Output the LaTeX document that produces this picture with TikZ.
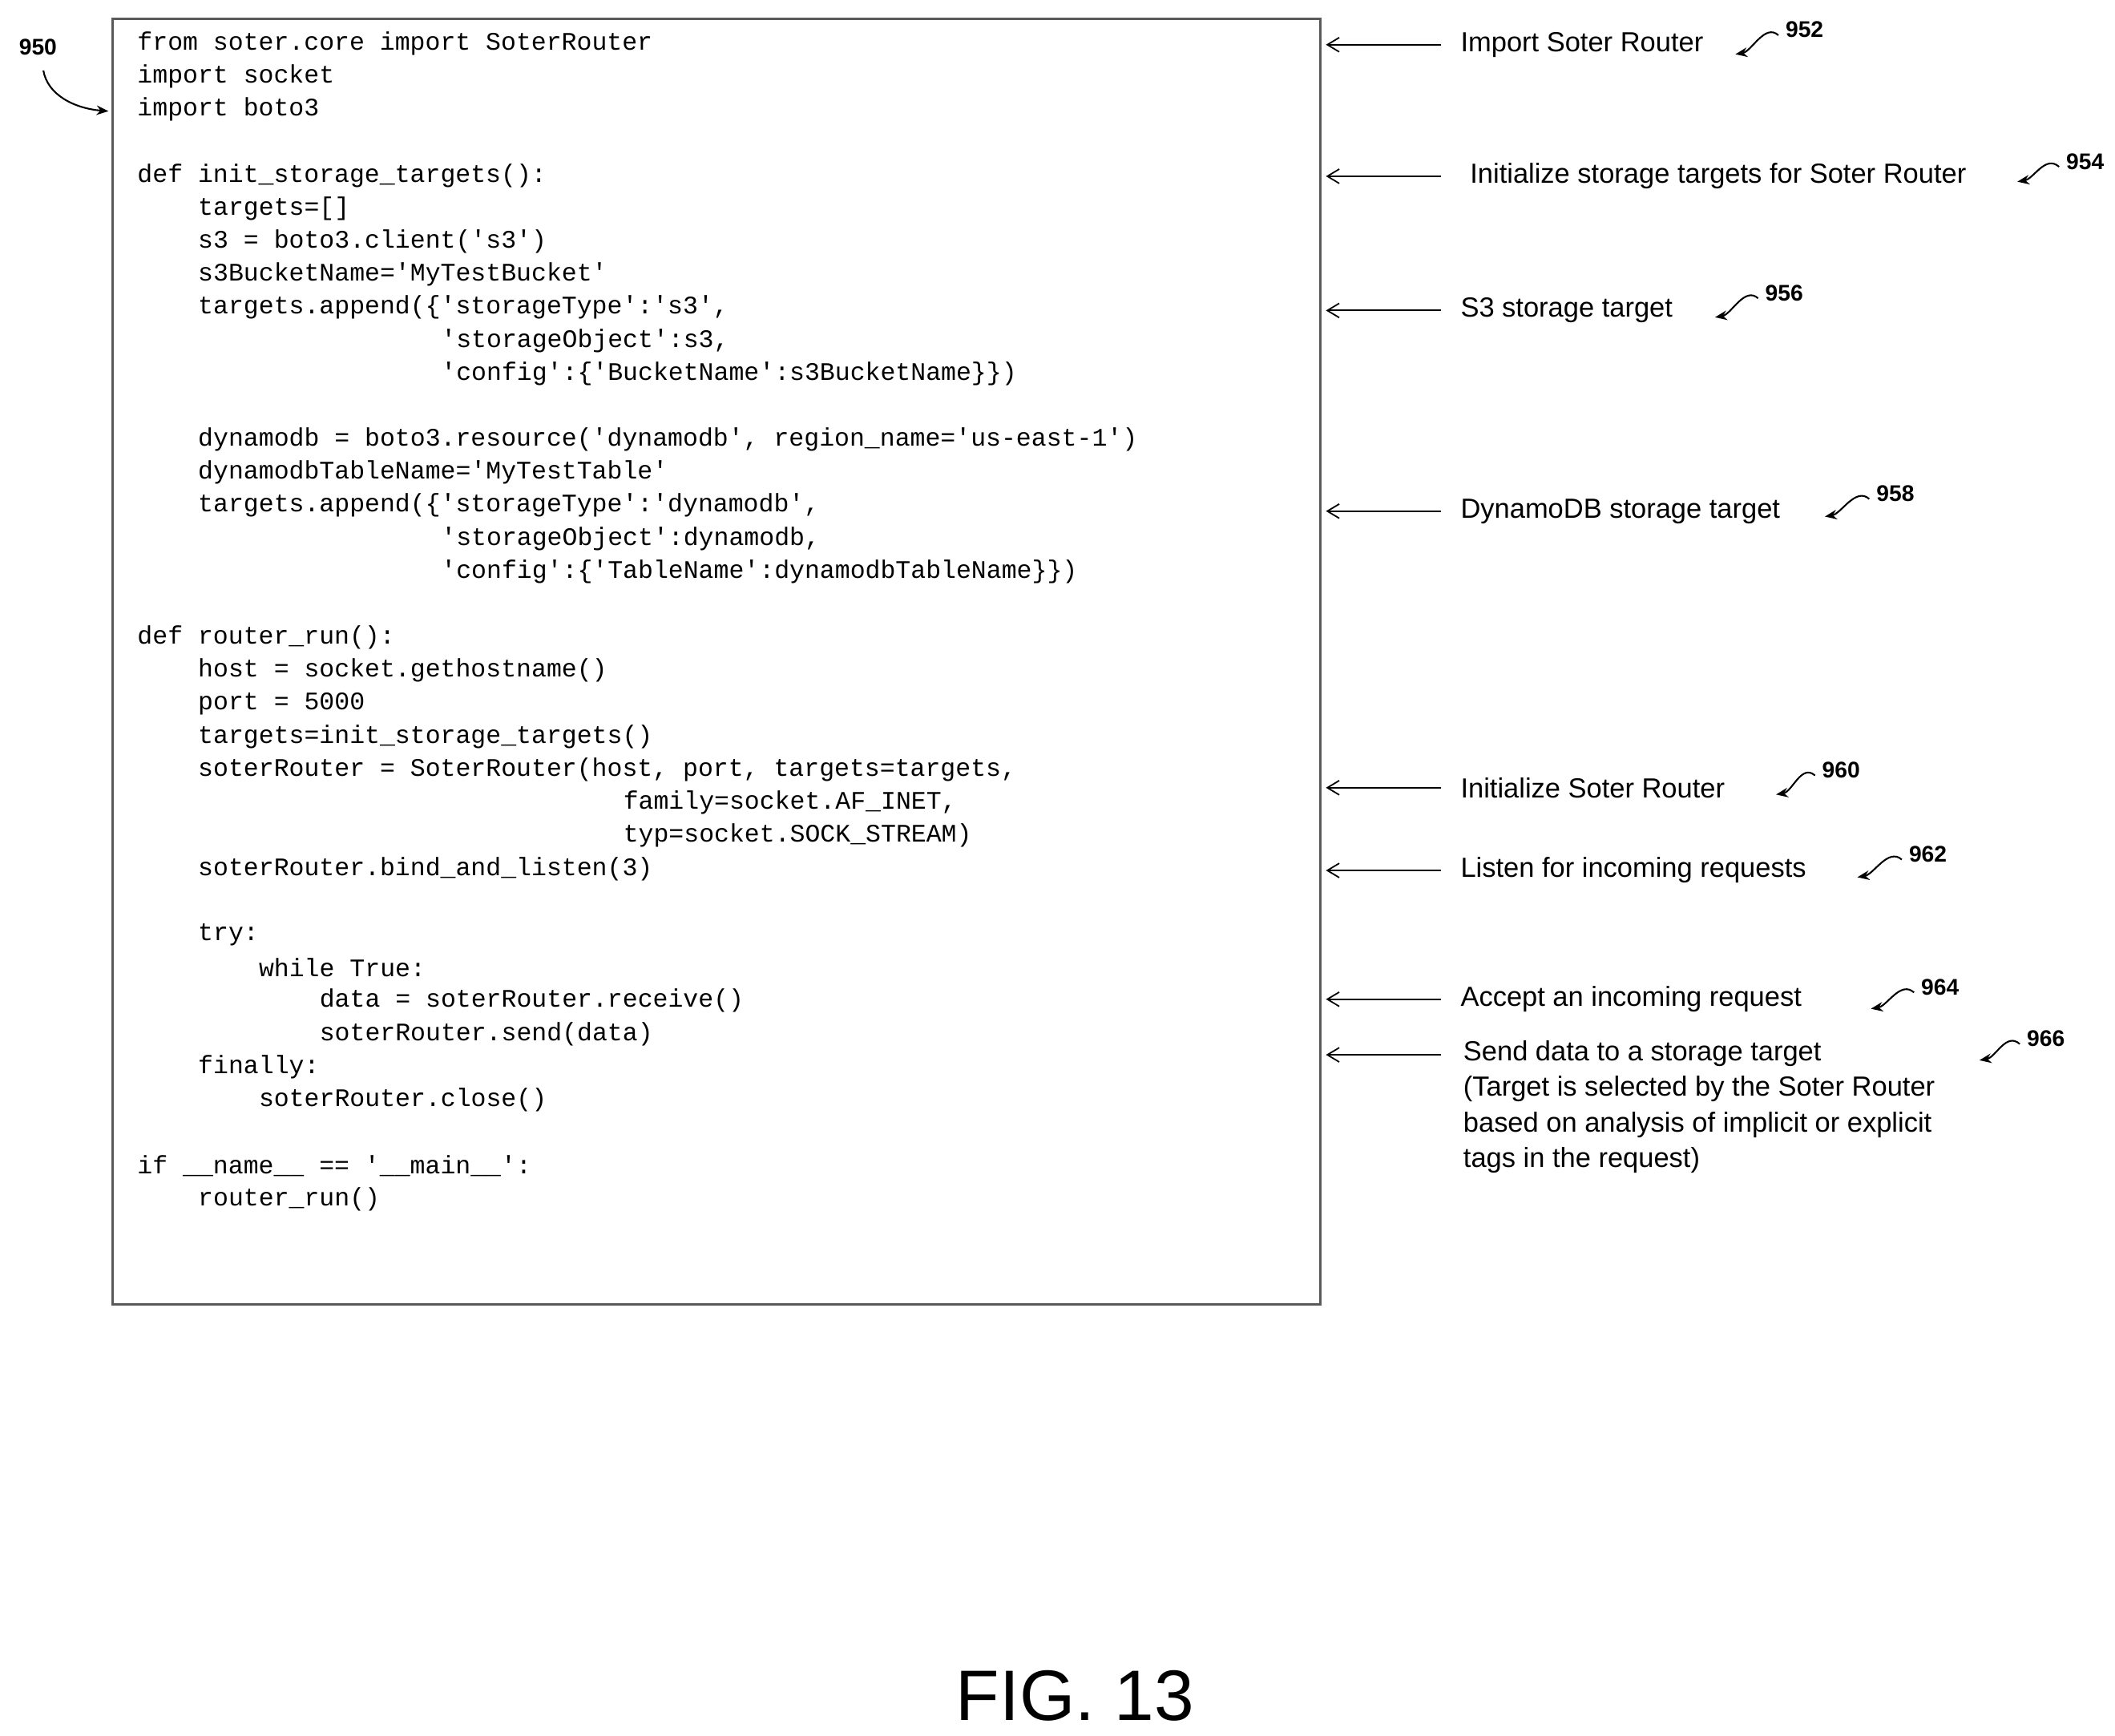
\documentclass[tikz,border=0pt]{standalone}
\usepackage{fontspec}
\setmainfont{Liberation Sans}
\newfontfamily\codefont{Liberation Mono}
\usetikzlibrary{arrows.meta}
\begin{document}
\begin{tikzpicture}[x=0.02cm,y=-0.02cm,
  code/.style={anchor=west,inner sep=0pt,font=\codefont\fontsize{10.6pt}{12pt}\selectfont},
  lab/.style={anchor=west,inner sep=0pt,font=\fontsize{11.6pt}{15pt}\selectfont,align=left},
  num/.style={inner sep=0pt,font=\bfseries\fontsize{9.5pt}{11pt}\selectfont},
  ptr/.style={-{Straight Barb[length=5pt,width=6pt]},line width=0.6pt},
  sq/.style={-{Stealth[length=5pt,width=4pt]},line width=0.7pt}]
\useasboundingbox (0,0) rectangle (1560,1280);
\draw[line width=1pt,gray!70!black] (83,14) rectangle (974,962);
\newcommand{\cl}[3]{\node[code] (c#1) at ({101+#2*11.2},{32+(#1-1)*24.35}) {#3};}
\cl{1}{0}{from soter.core import SoterRouter}
\cl{2}{0}{import socket}
\cl{3}{0}{import boto3}
\cl{5}{0}{def init\_storage\_targets():}
\cl{6}{4}{targets=[]}
\cl{7}{4}{s3 = boto3.client('s3')}
\cl{8}{4}{s3BucketName='MyTestBucket'}
\cl{9}{4}{targets.append(\{'storageType':'s3',}
\cl{10}{20}{'storageObject':s3,}
\cl{11}{20}{'config':\{'BucketName':s3BucketName\}\})}
\cl{13}{4}{dynamodb = boto3.resource('dynamodb', region\_name='us-east-1')}
\cl{14}{4}{dynamodbTableName='MyTestTable'}
\cl{15}{4}{targets.append(\{'storageType':'dynamodb',}
\cl{16}{20}{'storageObject':dynamodb,}
\cl{17}{20}{'config':\{'TableName':dynamodbTableName\}\})}
\cl{19}{0}{def router\_run():}
\cl{20}{4}{host = socket.gethostname()}
\cl{21}{4}{port = 5000}
\cl{22}{4}{targets=init\_storage\_targets()}
\cl{23}{4}{soterRouter = SoterRouter(host, port, targets=targets,}
\cl{24}{32}{family=socket.AF\_INET,}
\cl{25}{32}{typ=socket.SOCK\_STREAM)}
\cl{26}{4}{soterRouter.bind\_and\_listen(3)}
\cl{28}{4}{try:}
\cl{29}{8}{while True:}
\cl{30}{12}{data = soterRouter.receive()}
\cl{31}{12}{soterRouter.send(data)}
\cl{32}{4}{finally:}
\cl{33}{8}{soterRouter.close()}
\cl{35}{0}{if \_\_name\_\_ == '\_\_main\_\_':}
\cl{36}{4}{router\_run()}
% labels
\newcommand{\squig}[2]{\draw[sq] ([shift={(-5,4)}]#1.west) .. controls +(-10,-9) and +(12,-2) .. (#2);}
\newcommand{\lb}[6]{%
  \coordinate (s#1) at (1063,#3); \coordinate (e#1) at (978,#3);
  \draw[ptr] (s#1) -- (e#1);
  \node[lab] (t#1) at (#2,#3) {#4};
  \node[num] (n#1) at (#5) {#1};
  \coordinate (q#1) at (#6);
  \squig{n#1}{q#1}}
\lb{952}{1077}{33}{Import Soter Router}{1331,22}{1280,40}
\lb{954}{1084}{130}{Initialize storage targets for Soter Router}{1538,119}{1488,134}
\lb{956}{1077}{229}{S3 storage target}{1316,216}{1265,234}
\lb{958}{1077}{377}{DynamoDB storage target}{1398,364}{1346,381}
\lb{960}{1077}{581}{Initialize Soter Router}{1358,568}{1310,586}
\lb{962}{1077}{642}{Listen for incoming requests}{1422,630}{1370,647}
\lb{964}{1077}{737}{Accept an incoming request}{1431,728}{1380,744}
\coordinate (s966) at (1063,778); \coordinate (e966) at (978,778);
\draw[ptr] (s966) -- (e966);
\node[lab,anchor=north west] (t966) at (1079,767) {Send data to a storage target\\(Target is selected by the Soter Router\\based on analysis of implicit or explicit\\tags in the request)};
\node[num] (n966) at (1509,766) {966};
\coordinate (q966) at (1460,782);
\squig{n966}{q966}
\node[num] (n950) at (28,35) {950};
\coordinate (q950) at (80,82);
\draw[sq] (32,52) .. controls (35,70) and (55,80) .. (q950);
\node[inner sep=0pt,font=\fontsize{30pt}{34pt}\selectfont] (fig) at (793,1251) {FIG. 13};
\end{tikzpicture}
\end{document}
